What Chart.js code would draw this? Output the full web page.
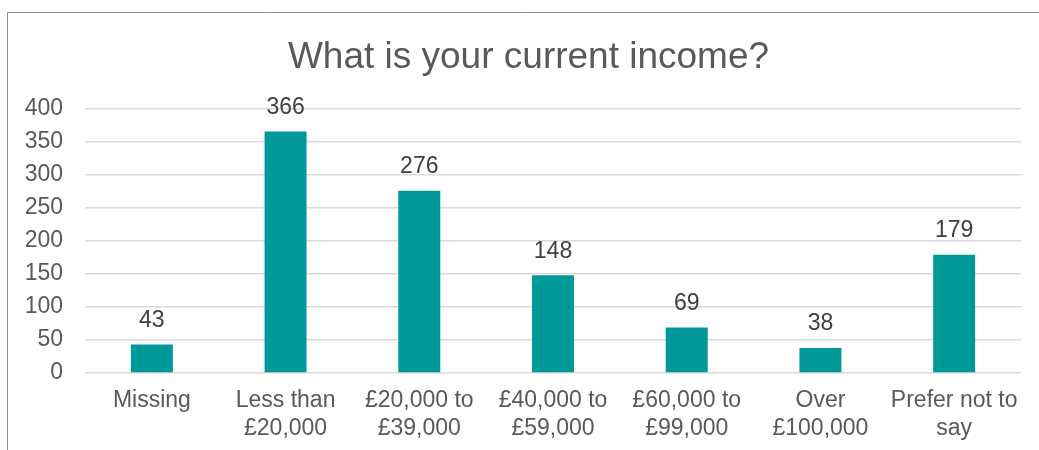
<!DOCTYPE html>
<html>
<head>
<meta charset="utf-8">
<script src="https://cdn.jsdelivr.net/npm/chart.js@4"></script>
<style>
html,body{margin:0;padding:0;background:#fff;overflow:hidden;}
#wrap{position:absolute;left:0;top:0;width:1039px;height:450px;}
</style>
</head>
<body>
<div id="wrap"><canvas id="c" width="1039" height="450"></canvas></div>
<script>
const titleText = "What is your current income?";
const categories = [
  ["Missing"],
  ["Less than", "£20,000"],
  ["£20,000 to", "£39,000"],
  ["£40,000 to", "£59,000"],
  ["£60,000 to", "£99,000"],
  ["Over", "£100,000"],
  ["Prefer not to", "say"]
];
const counts = [43, 366, 276, 148, 69, 38, 179];
const yTicks = [0, 50, 100, 150, 200, 250, 300, 350, 400];

const FONT = '"Liberation Sans", Arial, sans-serif';

const framePlugin = {
  id: 'frame',
  beforeDraw(chart) {
    const ctx = chart.ctx;
    ctx.save();
    ctx.fillStyle = '#ffffff';
    ctx.fillRect(0, 0, chart.width, chart.height);
    ctx.strokeStyle = '#8c8c8c';
    ctx.lineWidth = 1;
    ctx.beginPath();
    ctx.moveTo(7.5, 460);
    ctx.lineTo(7.5, 12.5);
    ctx.lineTo(1045, 12.5);
    ctx.stroke();
    ctx.fillStyle = '#595959';
    ctx.font = '37px ' + FONT;
    ctx.textAlign = 'center';
    ctx.textBaseline = 'alphabetic';
    ctx.fillText(titleText, 528.5, 68);
    ctx.restore();
  },
  afterDatasetsDraw(chart) {
    const ctx = chart.ctx;
    const meta = chart.getDatasetMeta(0);
    ctx.save();
    ctx.fillStyle = '#404040';
    ctx.font = '23px ' + FONT;
    ctx.textAlign = 'center';
    ctx.textBaseline = 'middle';
    meta.data.forEach((bar, i) => {
      ctx.fillText(String(counts[i]), bar.x, bar.y - 24);
    });
    ctx.restore();
  }
};

new Chart(document.getElementById('c'), {
  type: 'bar',
  data: {
    labels: categories,
    datasets: [{
      data: counts,
      backgroundColor: '#009999',
      borderWidth: 0,
      barPercentage: 0.314,
      categoryPercentage: 1.0
    }]
  },
  options: {
    responsive: false,
    animation: false,
    devicePixelRatio: 1,
    layout: { padding: { left: 0, right: 18, top: 109, bottom: 0 } },
    plugins: {
      legend: { display: false },
      title: { display: false },
      tooltip: { enabled: false }
    },
    scales: {
      x: {
        grid: { display: false, drawTicks: false },
        border: { display: false },
        ticks: {
          color: '#595959',
          font: { family: FONT, size: 23, lineHeight: 1.22 },
          padding: 14,
          maxRotation: 0,
          autoSkip: false
        },
        afterFit(scale) { scale.height = 77; }
      },
      y: {
        min: 0,
        max: 400,
        afterBuildTicks(scale) { scale.ticks = yTicks.map(v => ({ value: v })); },
        grid: { color: '#d9d9d9', lineWidth: 1.5, drawTicks: false },
        border: { display: false },
        ticks: {
          color: '#595959',
          font: { family: FONT, size: 23 },
          padding: 22
        },
        afterFit(scale) { scale.width = 85; }
      }
    }
  },
  plugins: [framePlugin]
});
</script>
</body>
</html>
